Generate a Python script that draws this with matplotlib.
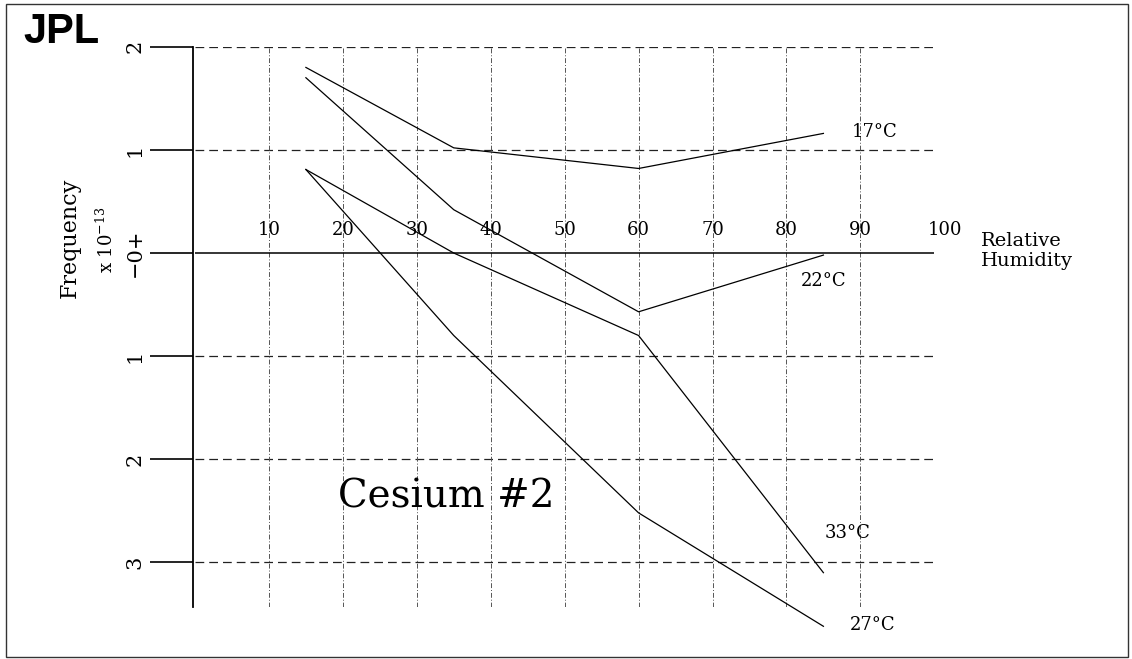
import matplotlib.pyplot as plt
from matplotlib import transforms
from matplotlib.patches import Rectangle

plt.rcParams['font.family'] = ['DejaVu Serif']
plt.rcParams['mathtext.fontset'] = 'dejavuserif'

# data (frequency offset x 1e-13 vs relative humidity)
humidity = [15, 35, 60, 85]
freq_17 = [1.80, 1.02, 0.82, 1.16]
freq_22 = [1.70, 0.42, -0.57, -0.02]
freq_33 = [0.81, 0.00, -0.80, -3.10]
freq_27 = [0.81, -0.80, -2.52, -3.62]
series_names = ['17°C', '22°C', '33°C', '27°C']

x_grid = [10, 20, 30, 40, 50, 60, 70, 80, 90, 100]
y_ticks = [2, 1, 0, -1, -2, -3]
y_tick_labels = ['2', '1', '\u22120+', '1', '2', '3']
y_grid = [2, 1, -1, -2, -3]

W, H = 1132, 659
fig = plt.figure(figsize=(W / 100, H / 100), dpi=100)
ax = fig.add_axes([193 / W, 1 - 606.7 / H, 741.3 / W, (606.7 - 46.8) / H])
ax.set_xlim(-0.27, 100)
ax.set_ylim(-3.43, 2.0)

# grid
ax.hlines(y_grid, 0, 100, colors='#222222', linewidth=0.9, linestyles=(0, (7, 4)))
ax.vlines(x_grid, -3.43, 2, colors='#555555', linewidth=0.7, linestyles=(0, (5, 2, 1, 2)))
ax.hlines(0, 0, 100, colors='black', linewidth=1.1)

# curves
for vals in [freq_17, freq_22, freq_33, freq_27]:
    ax.plot(humidity, vals, color='black', linewidth=0.9, clip_on=False)

# curve labels
label_pos = [(88.9, 1.17), (81.9, -0.27), (85.2, -2.72), (88.6, -3.61)]
for name, (lx, ly) in zip(series_names, label_pos):
    ax.text(lx, ly, name, ha='left', va='center', fontsize=13)

# humidity numbers sitting on the zero line
off = transforms.offset_copy(ax.transData, fig=fig, y=18, units='dots')
for x in x_grid:
    xp = x + 1.5 if x == 100 else x
    ax.text(xp, 0, str(x), transform=off, ha='center', va='baseline', fontsize=13)

ax.text(34.0, -2.37, 'Cesium #2', ha='center', va='center', fontsize=28)

# axes styling
for s in ['top', 'right', 'bottom']:
    ax.spines[s].set_visible(False)
ax.spines['left'].set_linewidth(1.3)
ax.set_xticks([])
ax.set_yticks(y_ticks)
ax.set_yticklabels(y_tick_labels, rotation=90, va='center')
ax.tick_params(axis='y', length=31, width=1.2, direction='out', pad=4, labelsize=15)

fig.text(70 / W, 1 - 238 / H, 'Frequency', rotation=90, ha='center', va='center', fontsize=16)
fig.text(106 / W, 1 - 240 / H, r'x 10$^{-13}$', rotation=90, ha='center', va='center', fontsize=13)
fig.text(981 / W, 1 - 251 / H, 'Relative\nHumidity', ha='left', va='center', fontsize=14,
         linespacing=1.1)
fig.text(23 / W, 1 - 43 / H, 'JPL', ha='left', va='baseline', fontsize=30,
         fontweight='bold', family=['Liberation Sans'])

fig.add_artist(Rectangle((6 / W, 2 / H), 1122 / W, 653 / H, transform=fig.transFigure,
                         fill=False, edgecolor='#333333', linewidth=1))

plt.savefig('out.png', dpi=100)
